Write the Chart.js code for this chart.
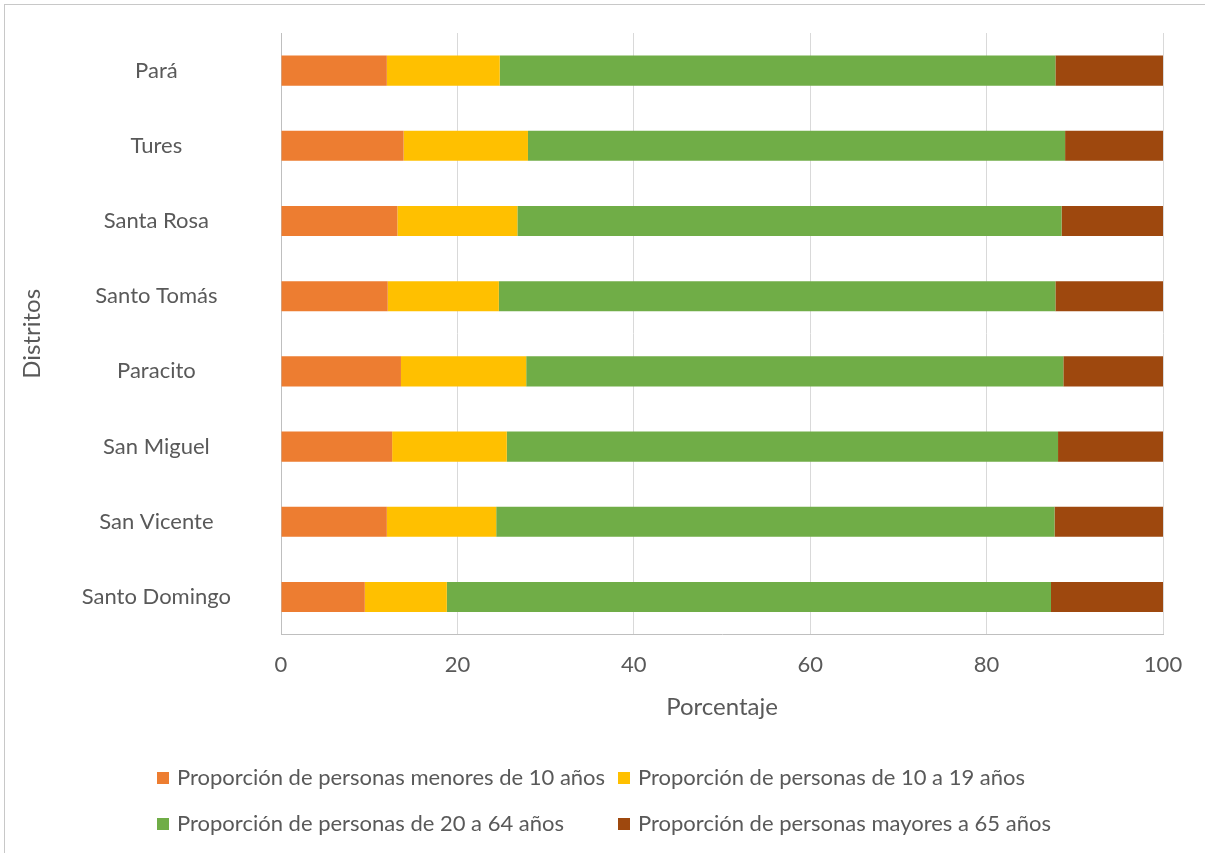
<!DOCTYPE html>
<html>
<head>
<meta charset="utf-8">
<script src="https://cdn.jsdelivr.net/npm/chart.js@4/dist/chart.umd.min.js"></script>
<style>
  html, body { margin: 0; padding: 0; background: #fff; overflow: hidden; }
  #wrap { position: relative; width: 1205px; height: 853px; overflow: hidden; }
  #frame { position: absolute; left: 4px; top: 4px; width: 1220px; height: 870px; border: 1px solid #c8c8c8; box-sizing: border-box; }
  #chart { position: absolute; left: 0; top: 0; }
  .leg { position: absolute; font-family: Lato, sans-serif; font-size: 22px; color: #595959; white-space: nowrap; line-height: 26px; }
  .leg i { display: inline-block; width: 12px; height: 12px; margin-right: 8px; vertical-align: 1px; }
</style>
</head>
<body>
<div id="wrap">
  <div id="frame"></div>
  <canvas id="chart" width="1205" height="853"></canvas>
  <div id="legend"></div>
</div>
<script>
const distritos = ["Pará", "Tures", "Santa Rosa", "Santo Tomás", "Paracito", "San Miguel", "San Vicente", "Santo Domingo"]

const menores10 = [12.0, 13.9, 13.2, 12.1, 13.6, 12.6, 12.0, 9.5]
const de10a19 = [12.8, 14.1, 13.6, 12.6, 14.2, 13.0, 12.4, 9.3]
const de20a64 = [63.0, 60.9, 61.7, 63.1, 60.9, 62.5, 63.3, 68.5]
const mayores65 = [12.2, 11.1, 11.5, 12.2, 11.3, 11.9, 12.3, 12.7]

const xTicks = [0, 20, 40, 60, 80, 100]

const series = [
  { label: "Proporción de personas menores de 10 años", data: menores10, color: "#ED7D31" },
  { label: "Proporción de personas de 10 a 19 años", data: de10a19, color: "#FFC000" },
  { label: "Proporción de personas de 20 a 64 años", data: de20a64, color: "#70AD47" },
  { label: "Proporción de personas mayores a 65 años", data: mayores65, color: "#9E480E" }
]

const textColor = "#595959"
const tickFont = { family: "Lato", size: 22 }
const titleFont = { family: "Lato", size: 24, lineHeight: 1 }

const ctx = document.getElementById("chart")

const chart = new Chart(ctx, {
  type: "bar",
  data: {
    labels: distritos,
    datasets: series.map(s => ({
      label: s.label,
      data: s.data,
      backgroundColor: s.color,
      borderWidth: 0,
      barPercentage: 1,
      categoryPercentage: 0.4
    }))
  },
  options: {
    indexAxis: "y",
    responsive: false,
    animation: false,
    layout: { padding: { left: 10, top: 33, right: 42, bottom: 134 } },
    plugins: {
      legend: { display: false },
      tooltip: { enabled: false }
    },
    scales: {
      x: {
        stacked: true,
        min: 0,
        max: 100,
        afterBuildTicks: (axis) => { axis.ticks = xTicks.map(v => ({ value: v })) },
        grid: { color: "#d9d9d9", lineWidth: 1, drawTicks: false },
        border: { display: true, color: "#bfbfbf", width: 1 },
        ticks: { color: textColor, font: tickFont, padding: 17 },
        title: { display: true, text: "Porcentaje", color: textColor, font: titleFont, padding: { top: 0, bottom: 0 } }
      },
      y: {
        stacked: true,
        grid: { display: false, drawTicks: false },
        border: { display: true, color: "#bfbfbf", width: 1 },
        ticks: { color: textColor, font: tickFont, padding: 50, crossAlign: "center" },
        title: { display: true, text: "Distritos", color: textColor, font: titleFont, padding: { top: 10, bottom: 0 } },
        afterFit: (axis) => {
          axis.width = 271
          axis.paddingTop = 0
          axis.paddingBottom = 0
        }
      }
    }
  }
})

// leyenda en dos columnas, como en el original
const legendPos = [
  { left: 157, top: 764 },
  { left: 618, top: 764 },
  { left: 157, top: 810 },
  { left: 618, top: 810 }
]
const legendEl = document.getElementById("legend")
chart.data.datasets.forEach((ds, i) => {
  const item = document.createElement("div")
  item.className = "leg"
  item.style.left = legendPos[i].left + "px"
  item.style.top = legendPos[i].top + "px"
  const box = document.createElement("i")
  box.style.background = ds.backgroundColor
  item.appendChild(box)
  item.appendChild(document.createTextNode(ds.label))
  legendEl.appendChild(item)
})
</script>
</body>
</html>
